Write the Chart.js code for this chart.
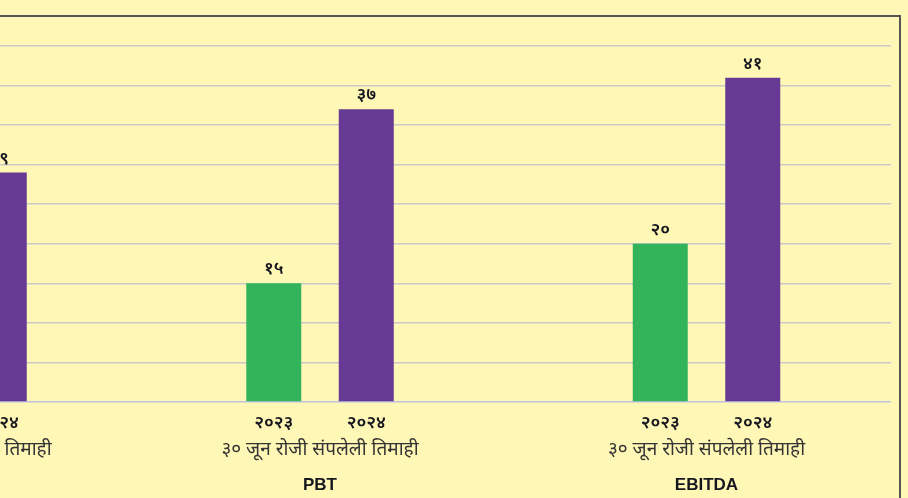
<!DOCTYPE html>
<html>
<head>
<meta charset="utf-8">
<script src="https://cdn.jsdelivr.net/npm/chart.js@4"></script>
<style>
    html, body { margin: 0; padding: 0; width: 908px; height: 498px; overflow: hidden; background: #fff7b6; }
    #frame { position: absolute; left: -300px; top: 15px; width: 1201px; height: 600px; box-sizing: border-box; border: 2px solid #555; }
    .panel { position: absolute; top: 17px; height: 481px; }
</style>
</head>
<body>
<div id="frame"></div>
<div class="panel" style="left:-212px;width:330px"><canvas id="chart0"></canvas></div>
<div class="panel" style="left:118px;width:404px"><canvas id="chart1"></canvas></div>
<div class="panel" style="left:522px;width:369px"><canvas id="chart2"></canvas></div>
<script>
// dữ liệu
const metrics = ["महसूल", "PBT", "EBITDA"];
const years = ["२०२३", "२०२४"];
const values2023 = [14, 15, 20];
const values2024 = [29, 37, 41];
const periodLabel = "३० जून रोजी संपलेली तिमाही";
const yMax = 45;
const yStep = 5;

const colors = ["#33b45b", "#663a94"];
const devaFont = '"Noto Sans", "Noto Sans Devanagari", sans-serif';

// số -> chữ số Devanagari
const toDeva = (n) => String(n).replace(/[0-9]/g, (d) => "०१२३४५६७८९"[d]);

const barText = {
    id: "barText",
    afterDatasetsDraw(chart) {
        const ctx = chart.ctx;
        const base = chart.scales.y.getPixelForValue(0);
        const cx = chart.scales.x.getPixelForValue(0);
        ctx.save();
        ctx.textAlign = "center";
        ctx.textBaseline = "middle";
        ctx.fillStyle = "#16161f";
        chart.data.datasets.forEach((ds, i) => {
            chart.getDatasetMeta(i).data.forEach((bar, j) => {
                ctx.font = "600 18px " + devaFont;
                ctx.fillText(toDeva(ds.data[j]), bar.x, bar.y - 14);
                ctx.fillText(years[i], bar.x, base + 21);
            });
        });
        ctx.fillStyle = "#333";
        ctx.font = "19px " + devaFont;
        ctx.fillText(periodLabel, cx, base + 48);
        ctx.fillStyle = "#16161f";
        ctx.font = 'bold 17px "Liberation Sans Narrow", "Liberation Sans", sans-serif';
        ctx.fillText(chart.data.labels[0], cx, base + 83);
        ctx.restore();
    },
};

function makeChart(idx) {
    const canvas = document.getElementById("chart" + idx);
    const w = canvas.parentElement.clientWidth;
    const gap = 92.5; // khoảng cách giữa hai cột
    return new Chart(canvas.getContext("2d"), {
        type: "bar",
        data: {
            labels: [metrics[idx]],
            datasets: [
                { label: "2023", data: [values2023[idx]], backgroundColor: colors[0] },
                { label: "2024", data: [values2024[idx]], backgroundColor: colors[1] },
            ],
        },
        options: {
            responsive: true,
            maintainAspectRatio: false,
            animation: false,
            layout: { padding: { top: 29, bottom: 96, left: 0, right: 0 } },
            datasets: { bar: { categoryPercentage: (2 * gap) / w, barPercentage: 55 / gap } },
            scales: {
                x: { display: false },
                y: {
                    min: 0,
                    max: yMax,
                    ticks: { display: false, stepSize: yStep },
                    border: { display: false },
                    grid: {
                        drawTicks: false,
                        lineWidth: 1.5,
                        color: (c) => (c.tick && c.tick.value === 0 ? "#bcc0e2" : "#c9c9c9"),
                    },
                },
            },
            plugins: { legend: { display: false }, tooltip: { enabled: false } },
        },
        plugins: [barText],
    });
}

document.addEventListener("DOMContentLoaded", () => {
    metrics.forEach((_, i) => makeChart(i));
});
</script>
</body>
</html>
